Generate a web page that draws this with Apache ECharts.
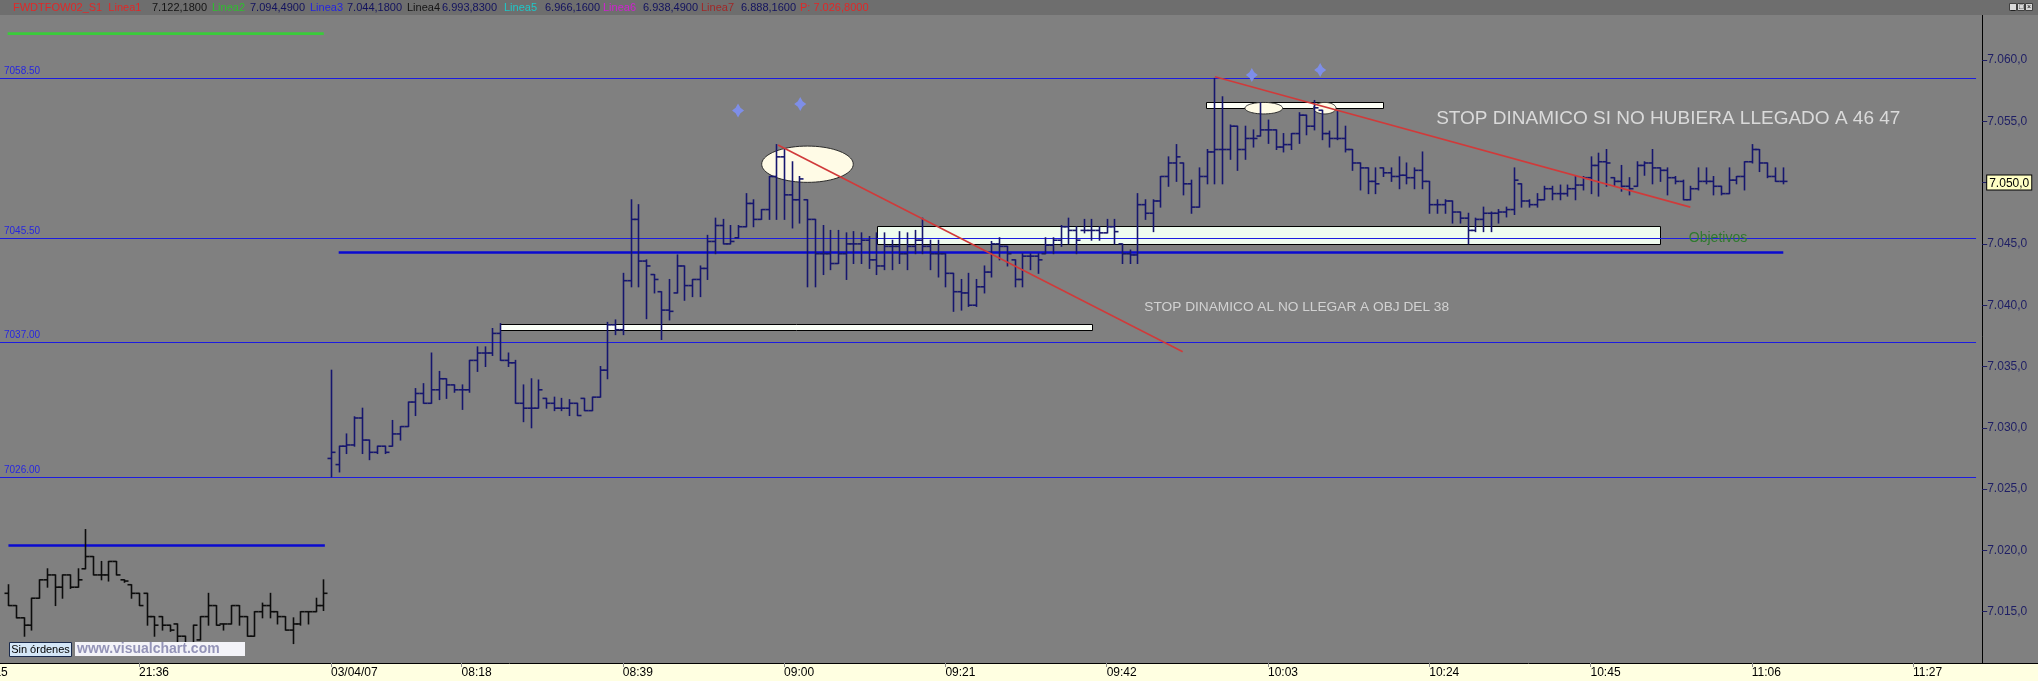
<!DOCTYPE html>
<html>
<head>
<meta charset="utf-8">
<script src="https://cdn.jsdelivr.net/npm/echarts@6/dist/echarts.min.js"></script>
<style>
html,body{margin:0;padding:0;background:#808080;overflow:hidden}
#c{width:2038px;height:681px}
</style>
</head>
<body>
<div id="c"></div>
<script>
// ---------------- DATA ----------------
// time categories: previous evening session + 03/04/07 morning session (1-minute bars)
const prevSession = ['21:15', '22:00'];
const daySession = ['08:01', '11:36'];
const dayLabel = '03/04/07';
const tickTimes = ['21:15','21:36','08:01','08:18','08:39','09:00','09:21','09:42','10:03','10:24','10:45','11:06','11:27'];
const yTicks = [7015, 7020, 7025, 7030, 7035, 7040, 7045, 7050, 7055, 7060];
const lastPrice = 7050;

// OHLC [open, high, low, close] – previous session, first bar at 21:19
const prevStart = '21:19';
const prevOHLC = [
[7016.5,7017.2,7015.5,7015.5],[7015.5,7015.5,7014.5,7014.5],[7014.5,7014.5,7013.0,7013.9],[7013.9,7016.1,7013.5,7016.1],
[7016.1,7017.6,7016.1,7017.6],[7017.6,7018.5,7017.0,7018.0],[7018.0,7018.0,7015.5,7017.0],[7017.0,7018.0,7016.1,7018.0],
[7018.0,7018.0,7016.9,7017.0],[7017.0,7018.5,7017.0,7017.6],[7018.5,7021.7,7018.5,7019.5],[7019.5,7019.5,7018.0,7018.0],
[7018.0,7019.1,7017.6,7018.0],[7018.0,7019.1,7017.5,7019.1],[7019.1,7019.1,7018.0,7018.0],[7017.6,7017.6,7017.4,7017.5],
[7017.2,7017.2,7016.1,7016.5],[7016.5,7016.5,7015.5,7015.5],[7016.5,7016.5,7013.9,7014.6],[7014.6,7014.6,7013.0,7013.9],
[7014.6,7014.6,7013.5,7013.9],[7013.9,7013.9,7013.4,7013.5],[7014.0,7014.0,7011.5,7013.0],[7013.0,7013.0,7011.6,7012.4],
[7012.4,7013.9,7012.4,7013.9],[7012.7,7014.6,7012.7,7014.6],[7014.6,7016.5,7013.9,7015.5],[7015.5,7015.5,7013.9,7013.9],
[7014.0,7014.0,7013.5,7014.0],[7014.0,7015.5,7014.0,7015.5],[7015.5,7015.5,7013.9,7014.6],[7014.6,7014.6,7013.0,7013.0],
[7013.0,7015.0,7013.0,7015.0],[7015.0,7015.7,7014.5,7015.5],[7015.5,7016.5,7014.5,7015.0],[7015.0,7015.0,7014.0,7014.6],
[7014.6,7014.6,7013.5,7013.5],[7013.5,7014.5,7012.4,7014.0],[7014.0,7015.0,7013.9,7015.0],[7015.0,7015.0,7014.0,7015.0],
[7015.0,7016.1,7015.0,7015.5],[7015.5,7017.6,7015.1,7016.5]
];

// OHLC [open, high, low, close] – 03/04/07 session, first bar at 08:01
const dayStart = '08:01';
const dayOHLC = [
[7027.5,7034.7,7026.0,7028.0],[7027.0,7028.5,7026.4,7028.5],[7028.5,7029.5,7027.9,7028.6],[7028.6,7030.9,7028.5,7030.8],
[7030.8,7031.6,7027.9,7029.0],[7029.0,7029.0,7027.4,7028.0],[7028.0,7028.5,7027.9,7028.5],[7028.5,7028.5,7027.9,7028.0],
[7028.5,7030.6,7028.5,7029.5],[7029.5,7030.1,7029.0,7030.1],[7030.1,7032.1,7030.1,7032.1],[7032.1,7033.2,7031.0,7032.8],
[7032.8,7033.6,7032.0,7032.0],[7032.0,7036.1,7032.0,7033.1],[7033.1,7034.6,7032.3,7034.0],[7034.0,7034.0,7032.4,7033.5],
[7033.5,7033.5,7032.9,7033.1],[7033.1,7033.5,7031.5,7033.1],[7033.1,7035.5,7032.9,7035.5],[7035.5,7036.6,7034.6,7036.1],
[7036.1,7036.6,7035.0,7036.1],[7036.1,7038.1,7035.9,7037.7],[7037.7,7038.5,7035.5,7035.5],[7035.5,7036.1,7035.0,7035.3],
[7035.3,7035.5,7032.0,7032.0],[7032.0,7033.5,7030.5,7031.6],[7031.6,7034.0,7030.0,7031.6],[7031.6,7033.9,7031.6,7033.1],
[7032.4,7032.4,7031.6,7032.0],[7032.0,7032.5,7031.4,7031.6],[7031.6,7032.4,7031.4,7031.6],[7031.6,7032.3,7031.0,7032.0],
[7032.0,7032.0,7031.0,7031.0],[7032.4,7032.4,7031.4,7031.4],[7031.4,7032.5,7031.4,7032.5],[7032.5,7035.0,7032.5,7034.7],
[7034.7,7038.6,7034.0,7038.4],[7038.4,7038.8,7037.6,7038.0],[7038.0,7042.6,7037.6,7042.0],[7042.0,7048.6,7041.5,7047.0],
[7047.0,7048.2,7041.5,7043.6],[7043.6,7043.7,7038.9,7043.2],[7042.5,7042.5,7041.0,7042.1],[7041.1,7041.1,7037.2,7039.6],
[7039.6,7042.1,7038.8,7039.5],[7041.0,7044.1,7041.0,7043.2],[7043.2,7043.2,7040.4,7041.6],[7041.6,7042.1,7040.7,7042.1],
[7042.1,7043.2,7040.7,7043.0],[7043.0,7045.7,7042.1,7045.2],[7045.2,7047.1,7044.2,7046.5],[7046.5,7047.0,7045.0,7045.0],
[7045.0,7046.5,7045.0,7045.2],[7045.5,7046.5,7045.5,7046.4],[7046.4,7049.1,7046.4,7048.3],[7048.3,7048.6,7046.4,7047.0],
[7047.0,7047.8,7047.0,7047.8],[7047.8,7050.5,7047.0,7050.5],[7050.5,7053.1,7047.0,7052.1],[7052.1,7052.7,7047.0,7049.0],
[7049.0,7051.7,7046.3,7048.6],[7048.6,7050.5,7046.7,7050.3],[7048.6,7048.6,7041.5,7047.0],[7047.0,7047.0,7041.5,7044.2],
[7044.2,7046.5,7042.5,7044.2],[7044.2,7046.1,7042.9,7043.4],[7043.4,7046.1,7043.4,7044.2],[7044.2,7045.9,7042.1,7045.0],
[7045.0,7046.0,7043.4,7045.0],[7045.0,7045.9,7043.4,7045.3],[7045.3,7045.6,7043.0,7043.7],[7043.7,7045.9,7042.5,7043.2],
[7043.2,7045.9,7042.9,7044.8],[7044.8,7045.3,7042.9,7044.8],[7044.8,7046.0,7043.4,7044.2],[7044.2,7045.9,7042.9,7044.8],
[7044.8,7046.1,7044.2,7045.3],[7045.3,7047.1,7044.2,7044.8],[7044.8,7045.3,7042.9,7044.2],[7044.2,7045.3,7042.3,7044.2],
[7044.2,7044.2,7041.5,7042.6],[7042.6,7042.6,7039.5,7041.1],[7041.1,7042.1,7039.6,7041.0],[7041.0,7042.6,7039.9,7040.0],
[7040.0,7042.1,7039.9,7041.5],[7041.5,7043.2,7041.0,7042.7],[7042.7,7045.2,7042.3,7045.0],[7045.0,7045.5,7043.7,7044.8],
[7044.8,7044.8,7043.2,7044.2],[7043.7,7043.7,7041.5,7042.1],[7042.1,7044.2,7041.5,7044.0],[7044.0,7044.2,7042.9,7044.0],
[7044.0,7044.2,7042.6,7043.7],[7044.2,7045.5,7044.2,7044.9],[7044.9,7045.5,7044.2,7045.3],[7045.3,7046.5,7044.8,7046.4],
[7046.4,7047.1,7045.0,7046.1],[7046.1,7046.4,7044.2,7045.3],[7046.1,7047.0,7045.9,7046.1],[7046.1,7047.0,7045.3,7046.1],
[7046.1,7046.4,7045.3,7045.9],[7045.9,7047.0,7045.9,7046.4],[7046.4,7047.0,7045.0,7046.0],[7045.0,7045.0,7043.4,7044.2],
[7044.2,7044.5,7043.4,7044.1],[7044.1,7049.1,7043.4,7048.2],[7048.2,7048.6,7047.0,7047.5],[7047.5,7048.6,7046.0,7048.5],
[7048.5,7050.5,7048.0,7050.5],[7050.5,7052.1,7049.7,7051.6],[7051.6,7053.1,7050.1,7052.1],[7051.6,7051.6,7049.0,7049.9],
[7049.9,7050.2,7047.5,7048.0],[7048.0,7051.2,7048.0,7050.5],[7050.5,7052.7,7049.9,7052.5],[7052.5,7058.5,7049.9,7052.7],
[7052.7,7057.0,7049.9,7052.7],[7052.7,7054.7,7051.9,7054.6],[7054.6,7054.6,7051.0,7052.7],[7052.7,7054.6,7051.9,7053.6],
[7053.6,7054.3,7052.9,7053.6],[7053.8,7056.5,7053.8,7054.3],[7054.3,7055.1,7053.2,7054.3],[7054.3,7054.3,7052.7,7052.9],
[7052.9,7054.0,7052.5,7053.1],[7053.1,7054.0,7052.7,7054.0],[7054.0,7055.7,7053.2,7055.5],[7055.5,7055.5,7053.9,7054.6],
[7054.6,7056.7,7054.3,7056.1],[7055.9,7055.9,7053.5,7054.0],[7054.0,7054.2,7052.9,7053.6],[7053.6,7055.8,7053.5,7053.6],
[7053.6,7054.6,7052.5,7052.7],[7052.7,7052.7,7051.0,7051.6],[7051.6,7051.6,7049.4,7051.2],[7051.2,7051.2,7049.1,7050.1],
[7050.1,7051.2,7049.1,7049.9],[7051.2,7051.2,7050.5,7050.8],[7050.8,7051.2,7050.1,7050.5],[7050.5,7052.1,7049.5,7050.6],
[7050.6,7051.6,7049.9,7050.4],[7050.4,7051.2,7049.5,7051.0],[7051.0,7052.5,7049.5,7050.1],[7050.1,7050.1,7047.5,7048.2],
[7048.2,7048.6,7047.5,7048.2],[7048.2,7048.6,7047.5,7048.5],[7048.5,7048.5,7046.7,7047.6],[7047.6,7047.6,7046.7,7047.1],
[7047.1,7047.5,7045.0,7046.1],[7046.1,7047.1,7046.0,7047.0],[7047.0,7048.0,7046.0,7047.5],[7047.5,7047.6,7046.0,7047.5],
[7047.5,7047.8,7046.7,7047.6],[7047.6,7048.0,7047.2,7047.8],[7047.8,7051.2,7047.4,7050.2],[7049.9,7049.9,7048.0,7048.5],
[7048.5,7048.6,7048.0,7048.2],[7048.2,7049.1,7048.0,7048.6],[7048.6,7049.7,7048.6,7049.5],[7049.5,7049.7,7048.6,7049.1],
[7049.1,7049.8,7048.6,7049.1],[7049.1,7049.8,7048.9,7049.5],[7049.5,7050.5,7048.6,7049.8],[7049.8,7050.5,7049.4,7050.4],
[7050.4,7052.1,7049.1,7051.4],[7051.4,7052.4,7048.9,7051.7],[7051.7,7052.7,7049.7,7051.6],[7050.4,7050.4,7049.7,7050.1],
[7050.1,7051.4,7049.3,7049.7],[7049.7,7050.4,7049.0,7049.5],[7049.7,7051.7,7049.7,7051.4],[7051.4,7051.7,7050.6,7051.6],
[7051.6,7052.7,7049.9,7051.2],[7051.2,7051.2,7050.1,7051.0],[7051.0,7051.2,7049.0,7050.4],[7050.4,7050.5,7049.9,7050.1],
[7050.1,7050.2,7048.6,7048.6],[7048.6,7049.7,7048.6,7049.5],[7049.5,7051.2,7049.4,7050.1],[7050.1,7051.2,7049.9,7050.1],
[7050.1,7050.5,7049.0,7049.7],[7049.7,7049.7,7049.0,7049.1],[7049.1,7051.2,7049.1,7050.2],[7050.2,7050.5,7049.9,7050.5],
[7050.5,7051.7,7049.4,7051.7],[7051.7,7053.1,7051.6,7052.7],[7052.7,7052.7,7050.9,7051.6],[7051.6,7051.6,7050.4,7050.5],
[7050.5,7051.2,7050.1,7050.1],[7050.1,7051.2,7049.9,7050.1]
];

// horizontal price levels (label on the left)
const levelValues = [7058.5, 7045.5, 7037.0, 7026.0];
const levelLabels = ['7058.50', '7045.50', '7037.00', '7026.00'];
const levelFrom = 2.9, levelTo = 260.2;            // positions along the time axis (bar index)

// thick blue support lines [fromIdx, price, toIdx, price]
const supportLines = [[47.0, 7044.3, 235.1, 7044.3], [4.0, 7020.4, 45.2, 7020.4]];
// green line [fromIdx, price, toIdx, price]
const greenLines = [[3.9, 7062.15, 45.05, 7062.15]];
// red trend lines (dynamic stops)
const trendLines = [[104.2, 7053.07, 156.9, 7036.2], [161.1, 7058.64, 223.0, 7048.0]];
// rectangles [fromIdx, topPrice, toIdx, bottomPrice]
const zones = [[68.0, 7038.5, 145.05, 7038.0], [117.06, 7046.48, 219.0, 7045.05], [159.9, 7056.55, 182.9, 7056.06]];
// ellipses [centerIdx, centerPrice, halfWidthIdx, halfHeightPts]
const ellipses = [[108.04, 7051.5, 5.96, 1.48], [167.46, 7056.07, 2.45, 0.47], [175.39, 7056.07, 1.47, 0.47]];
// star markers [idx, price]
const stars = [[99.0, 7055.88], [107.1, 7056.41], [165.9, 7058.78], [174.8, 7059.18]];
// text notes [idx (left edge), price (middle)]
const notePos = [[189.9, 7055.19], [151.9, 7039.85], [222.8, 7045.48]];
const noteTexts = ['STOP DINAMICO SI NO HUBIERA LLEGADO A 46 47', 'STOP DINAMICO AL NO LLEGAR A OBJ DEL 38', 'Objetivos'];

// header legend
const headerItems = [
  ['FWDTFOW02_S1  Linea1', '#e02828'], ['7.122,1800', '#141414'], ['Linea2', '#2fbf2f'], ['7.094,4900', '#12125e'],
  ['Linea3', '#2424e0'], ['7.044,1800', '#12125e'], ['Linea4', '#141414'], ['6.993,8300', '#12125e'],
  ['Linea5', '#1ec8c8'], ['6.966,1600', '#12125e'], ['Linea6', '#d020d0'], ['6.938,4900', '#12125e'],
  ['Linea7', '#a02828'], ['6.888,1600', '#12125e'], ['P: 7.026,8000', '#e02828']
];
const headerX = [13, 152, 212, 250, 310, 347, 407, 442, 504, 545, 603, 643, 701, 741, 800];

// ---------------- BUILD ----------------
function minuteRange(a, b) {
  const toM = s => { const p = s.split(':'); return (+p[0]) * 60 + (+p[1]); };
  const out = [];
  for (let m = toM(a); m <= toM(b); m++) {
    out.push(String(Math.floor(m / 60)).padStart(2, '0') + ':' + String(m % 60).padStart(2, '0'));
  }
  return out;
}
const times = minuteRange(prevSession[0], prevSession[1]).concat(minuteRange(daySession[0], daySession[1]));
const lastIdx = times.length - 1;
const dayIdx = times.indexOf(dayStart);
const tickSet = new Set(tickTimes.map(t => times.indexOf(t)));

const prevData = prevOHLC.map((b, k) => [times.indexOf(prevStart) + k].concat(b));
const dayData = dayOHLC.map((b, k) => [dayIdx + k].concat(b));

function fmtPrice(v) {
  const th = Math.floor(v / 1000), rest = Math.round(v - th * 1000);
  return th + '.' + String(rest).padStart(3, '0') + ',0';
}

function ohlcRender(color) {
  return function (params, api) {
    const i = api.value(0);
    const pO = api.coord([i, api.value(1)]);
    const pH = api.coord([i, api.value(2)]);
    const pL = api.coord([i, api.value(3)]);
    const pC = api.coord([i, api.value(4)]);
    const x = Math.round(pO[0]) + 0.5;
    const st = () => ({ stroke: color, lineWidth: 1.6 });
    return {
      type: 'group', children: [
        { type: 'line', shape: { x1: x, y1: pH[1] - 0.5, x2: x, y2: pL[1] + 0.5 }, style: st() },
        { type: 'line', shape: { x1: x - 4, y1: pO[1], x2: x, y2: pO[1] }, style: st() },
        { type: 'line', shape: { x1: x, y1: pC[1], x2: x + 4, y2: pC[1] }, style: st() }
      ]
    };
  };
}
function segRender(color, width) {
  return function (params, api) {
    const a = api.coord([api.value(0), api.value(1)]);
    const b = api.coord([api.value(2), api.value(3)]);
    return { type: 'line', shape: { x1: a[0], y1: a[1], x2: b[0], y2: b[1] }, style: { stroke: color, lineWidth: width } };
  };
}
const zoneFills = ['#fbfff8', '#effcef', '#fdfff6'];
const noteStyles = [
  { fill: '#dadada', fontSize: 19 },
  { fill: '#d2d2d2', fontSize: 13.7 },
  { fill: '#2f7a2f', fontSize: 14 }
];

const commonCustom = { type: 'custom', xAxisIndex: 1, yAxisIndex: 0, silent: true, animation: false, clip: false };

const option = {
  backgroundColor: '#808080',
  animation: false,
  grid: { left: -22.28, right: 55.8, top: -1.3, bottom: 8, containLabel: false, outerBoundsMode: 'none' },
  xAxis: [
    {
      type: 'category', data: times, boundaryGap: false, position: 'bottom', offset: -10, z: 60,
      axisLine: { show: false },
      axisTick: { show: true, length: 4, interval: (i) => tickSet.has(i), lineStyle: { color: '#8c8c8c', width: 1 } },
      axisLabel: {
        show: true, interval: (i) => tickSet.has(i), align: 'left', margin: 4,
        color: '#000', fontSize: 12, fontFamily: 'Liberation Sans, Arial, sans-serif',
        formatter: (v, i) => (i === dayIdx ? dayLabel : v)
      },
      splitLine: { show: false }
    },
    { type: 'value', min: 0, max: lastIdx, show: false }
  ],
  yAxis: {
    type: 'value', position: 'right', min: 7010, max: 7065, interval: 5,
    axisLine: { show: true, onZero: false, lineStyle: { color: '#000', width: 1 } },
    axisTick: { show: true, length: 5, lineStyle: { color: '#1e1e64' } },
    splitLine: { show: false },
    axisLabel: {
      margin: 5, color: '#1e1e64', fontSize: 12, fontFamily: 'Liberation Sans, Arial, sans-serif',
      showMinLabel: false, showMaxLabel: false,
      formatter: v => (v === lastPrice ? '{cur|' + fmtPrice(v) + '}' : fmtPrice(v)),
      rich: { cur: { color: '#000', backgroundColor: '#ffffc4', borderColor: '#000', borderWidth: 1, padding: [2, 2, 0, 2], fontSize: 12, fontFamily: 'Liberation Sans, Arial, sans-serif' } }
    }
  },
  series: [
    Object.assign({}, commonCustom, {
      name: 'zones', z: 2, data: zones, encode: { x: [0, 2], y: [1, 3] },
      renderItem: function (params, api) {
        const a = api.coord([api.value(0), api.value(1)]);
        const b = api.coord([api.value(2), api.value(3)]);
        return {
          type: 'rect',
          shape: { x: Math.round(Math.min(a[0], b[0])) + 0.5, y: Math.round(Math.min(a[1], b[1])) + 0.5, width: Math.round(Math.abs(b[0] - a[0])), height: Math.round(Math.abs(b[1] - a[1])) },
          style: { fill: zoneFills[params.dataIndex], stroke: '#000', lineWidth: 1 }
        };
      }
    }),
    Object.assign({}, commonCustom, {
      name: 'ellipses', z: 3, data: ellipses, encode: { x: 0, y: 1 },
      renderItem: function (params, api) {
        const c = api.coord([api.value(0), api.value(1)]);
        const s = api.size([api.value(2), api.value(3)]);
        const pts = [];
        for (let k = 0; k < 72; k++) {
          const t = k / 72 * Math.PI * 2;
          pts.push([c[0] + s[0] * Math.cos(t), c[1] + s[1] * Math.sin(t)]);
        }
        return { type: 'polygon', shape: { points: pts }, style: { fill: '#fffbe6', stroke: '#2a2a2a', lineWidth: 1 } };
      }
    }),
    Object.assign({}, commonCustom, {
      name: 'levels', z: 4, data: levelValues.map(v => [levelFrom, v, levelTo, v]), encode: { x: [0, 2], y: [1, 3] },
      renderItem: function (params, api) {
        const a = api.coord([api.value(0), api.value(1)]);
        const b = api.coord([api.value(2), api.value(3)]);
        const y = Math.round(a[1]) + 0.5;
        return {
          type: 'group', children: [
            { type: 'line', shape: { x1: a[0], y1: y, x2: b[0], y2: y }, style: { stroke: '#1c1ce0', lineWidth: 1.2 } },
            { type: 'text', x: a[0] + 4, y: y - 2, style: { text: levelLabels[params.dataIndex], fill: '#2626e0', fontSize: 10, fontFamily: 'Liberation Sans, Arial, sans-serif', align: 'left', verticalAlign: 'bottom' } }
          ]
        };
      }
    }),
    Object.assign({}, commonCustom, {
      name: 'support', z: 4, data: supportLines, encode: { x: [0, 2], y: [1, 3] }, renderItem: segRender('#0a0ad0', 2.6)
    }),
    Object.assign({}, commonCustom, {
      name: 'green', z: 4, data: greenLines, encode: { x: [0, 2], y: [1, 3] }, renderItem: segRender('#3acc3a', 2.6)
    }),
    Object.assign({}, commonCustom, {
      name: 'prev', z: 5, data: prevData, encode: { x: 0, y: [1, 2, 3, 4] }, renderItem: ohlcRender('#0c0c0c')
    }),
    Object.assign({}, commonCustom, {
      name: 'day', z: 5, data: dayData, encode: { x: 0, y: [1, 2, 3, 4] }, renderItem: ohlcRender('#16166e')
    }),
    Object.assign({}, commonCustom, {
      name: 'trend', z: 6, data: trendLines, encode: { x: [0, 2], y: [1, 3] }, renderItem: segRender('#d03a3a', 1.6)
    }),
    {
      type: 'scatter', name: 'stars', xAxisIndex: 1, yAxisIndex: 0, z: 7, silent: true, data: stars,
      symbol: 'path://M0,-10 L4,-4 L10,0 L4,4 L0,10 L-4,4 L-10,0 L-4,-4 Z',
      symbolSize: [12, 14], itemStyle: { color: '#7e8ee8', opacity: 1 }
    },
    Object.assign({}, commonCustom, {
      name: 'notes', z: 7, data: notePos, encode: { x: 0, y: 1 },
      renderItem: function (params, api) {
        const p = api.coord([api.value(0), api.value(1)]);
        const s = noteStyles[params.dataIndex];
        return { type: 'text', x: p[0], y: p[1], style: { text: noteTexts[params.dataIndex], fill: s.fill, fontSize: s.fontSize, fontFamily: 'Liberation Sans, Arial, sans-serif', align: 'left', verticalAlign: 'middle' } };
      }
    })
  ],
  graphic: (function () {
    const g = [];
    // header band
    g.push({ type: 'rect', z: 50, silent: true, shape: { x: 0, y: 0, width: 2038, height: 15 }, style: { fill: '#6e6e6e' } });
    headerItems.forEach((h, k) => {
      g.push({ type: 'text', z: 51, silent: true, x: headerX[k], y: 7.5, style: { text: h[0], fill: h[1], fontSize: 11, fontFamily: 'Liberation Sans, Arial, sans-serif', align: 'left', verticalAlign: 'middle' } });
    });
    // window buttons
    [2009, 2017, 2025].forEach((x, k) => {
      g.push({ type: 'rect', z: 51, silent: true, shape: { x: x + 0.5, y: 3.5, width: 7, height: 7 }, style: { fill: '#d8d8d8', stroke: '#404040', lineWidth: 1 } });
      g.push({ type: 'text', z: 52, silent: true, x: x + 4, y: 7.5, style: { text: ['_', '□', '×'][k], fill: '#000', fontSize: 7, align: 'center', verticalAlign: 'middle' } });
    });
    // bottom time band
    g.push({ type: 'rect', z: 50, silent: true, shape: { x: 0, y: 663, width: 2038, height: 18 }, style: { fill: '#ffffe1' } });
    g.push({ type: 'line', z: 51, silent: true, shape: { x1: 0, y1: 663.5, x2: 2038, y2: 663.5 }, style: { stroke: '#000', lineWidth: 1 } });
    // status boxes
    g.push({ type: 'rect', z: 51, silent: true, shape: { x: 9.5, y: 642.5, width: 62, height: 14 }, style: { fill: '#d4e6f6', stroke: '#1a2a4c', lineWidth: 1 } });
    g.push({ type: 'text', z: 52, silent: true, x: 40.5, y: 650, style: { text: 'Sin órdenes', fill: '#000', fontSize: 11, fontFamily: 'Liberation Sans, Arial, sans-serif', align: 'center', verticalAlign: 'middle' } });
    g.push({ type: 'rect', z: 51, silent: true, shape: { x: 75, y: 642, width: 170, height: 14 }, style: { fill: '#f3f3f8' } });
    g.push({ type: 'text', z: 52, silent: true, x: 77, y: 649.5, style: { text: 'www.visualchart.com', fill: '#9494b8', fontSize: 14, fontWeight: 'bold', fontFamily: 'Liberation Sans, Arial, sans-serif', align: 'left', verticalAlign: 'middle' } });
    return g;
  })()
};

const chart = echarts.init(document.getElementById('c'), null, { renderer: 'canvas', width: 2038, height: 681 });
chart.setOption(option);
</script>
</body>
</html>
